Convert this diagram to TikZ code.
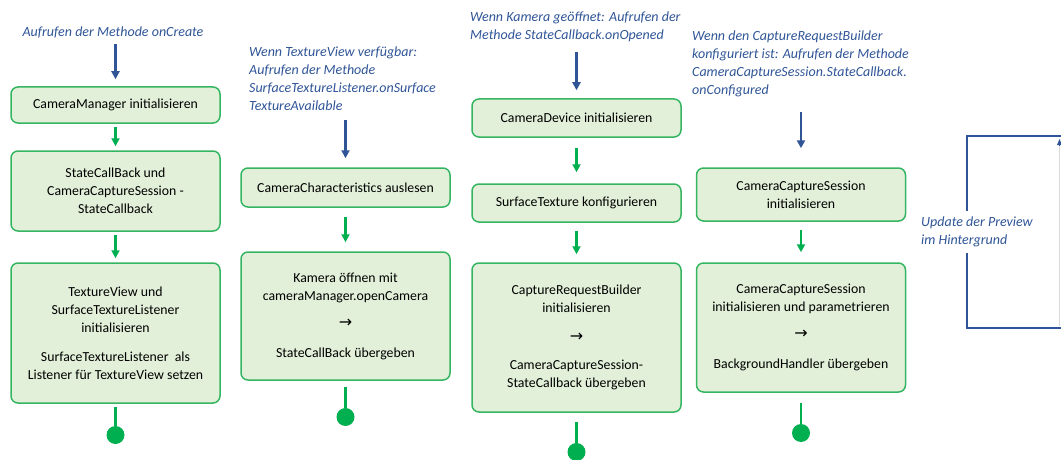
\documentclass[tikz,border=0pt]{standalone}
\usepackage{fontspec}
\setmainfont{Carlito}
\newfontfamily\arrowfont{DejaVu Sans}
\usetikzlibrary{arrows.meta}
\definecolor{stepfill}{HTML}{E2F0D9}
\definecolor{stepline}{HTML}{35B562}
\definecolor{flowgreen}{HTML}{00B050}
\definecolor{callblue}{HTML}{2F5597}
\newcommand{\thento}{{\arrowfont\fontsize{16}{18}\selectfont →}}
\tikzset{box/.style={draw=stepline,line width=1.5pt,rounded corners=7pt,fill=stepfill,minimum width=209pt,align=center,font=\fontsize{13.8}{18}\selectfont,inner sep=2pt},flow/.style={-{Triangle[length=8pt,width=8pt]},line width=2.2pt,draw=flowgreen},call/.style={flow,draw=callblue},stopdot/.style={circle,fill=flowgreen,minimum size=18pt,inner sep=0pt},note/.style={font=\fontsize{14}{18}\selectfont\itshape,text=callblue,align=left,inner sep=0pt},loopline/.style={draw=callblue,line width=2.2pt}}

\begin{document}
\begin{tikzpicture}[x=1pt,y=-1pt]
\useasboundingbox (0,0) rectangle (1061,460);
% column 1: onCreate
\node[note] (oncreate) at (113,32) {Aufrufen der Methode onCreate};
\node[box,minimum height=36pt] (cm) at (115.5,105) {CameraManager initialisieren};\node[box,minimum height=80pt] (scb) at (115.5,191) {StateCallBack und\\CameraCaptureSession -\\StateCallback};\node[box,minimum height=140pt] (tv) at (115.5,333) {TextureView und\\SurfaceTextureListener\\initialisieren\\[11pt]SurfaceTextureListener\ \ als\\Listener für TextureView setzen};\node[stopdot] (e1) at (115.5,435) {};
\draw[call,shorten <=6pt,shorten >=7pt] (cm.north |- oncreate.south) -- (cm.north);\draw[flow,shorten <=3pt,shorten >=4pt] (cm) -- (scb);\draw[flow,shorten <=3pt,shorten >=4pt] (scb) -- (tv);\draw[flow,-,shorten <=3pt] (tv) -- (e1);
% column 2: onSurfaceTextureAvailable
\node[note,anchor=west] (ontexture) at (249,79) {Wenn TextureView verfügbar:\\Aufrufen der Methode\\SurfaceTextureListener.onSurface\\TextureAvailable};
\node[box,minimum height=39pt] (cc) at (345.5,187.5) {CameraCharacteristics auslesen};\node[box,minimum height=128pt] (open) at (345.5,316) {Kamera öffnen mit\\cameraManager.openCamera\\[9pt]\thento\\[12pt]StateCallBack übergeben};\node[stopdot] (e2) at (345.5,417) {};
\draw[call,shorten <=9pt,shorten >=9pt] (cc.north |- ontexture.south) -- (cc.north);\draw[flow,shorten <=9pt,shorten >=9pt] (cc) -- (open);\draw[flow,-,shorten <=6pt] (open) -- (e2);
% column 3: onOpened
\node[note,anchor=west] (onopened) at (470,26.5) {Wenn Kamera geöffnet: Aufrufen der\\Methode StateCallback.onOpened};
\node[box,minimum height=38pt] (cd) at (576.5,118) {CameraDevice initialisieren};\node[box,minimum height=38pt] (st) at (576.5,203) {SurfaceTexture konfigurieren};\node[box,minimum height=149pt] (crb) at (576.5,337.5) {CaptureRequestBuilder\\initialisieren\\[11pt]\thento\\[10pt]CameraCaptureSession-\\StateCallback übergeben};\node[stopdot] (e3) at (576.5,452) {};
\draw[call,shorten <=10pt,shorten >=8pt] (cd.north |- onopened.south) -- (cd.north);\draw[flow,shorten <=10pt,shorten >=11pt] (cd) -- (st);\draw[flow,shorten <=8pt,shorten >=8pt] (st) -- (crb);\draw[flow,-,shorten <=9pt] (crb) -- (e3);
% column 4: onConfigured
\node[note,anchor=west] (onconfigured) at (692,64) {Wenn den CaptureRequestBuilder\\konfiguriert ist: Aufrufen der Methode\\CameraCaptureSession.StateCallback.\\onConfigured};
\node[box,minimum height=53pt] (ccs) at (801,194.5) {CameraCaptureSession\\initialisieren};\node[box,minimum height=129pt] (ccsp) at (801,327.5) {CameraCaptureSession\\initialisieren und parametrieren\\[9pt]\thento\\[12pt]BackgroundHandler übergeben};\node[stopdot] (e4) at (801,433) {};
\draw[call,shorten <=15pt,shorten >=19pt] (ccs.north |- onconfigured.south) -- (ccs.north);\draw[flow,shorten <=8pt,shorten >=10pt] (ccs) -- (ccsp);\draw[flow,-,shorten <=10pt] (ccsp) -- (e4);
% preview loop
\coordinate (loopbot) at (1061,328);\coordinate (looptop) at (1061,136);\coordinate (edgebot) at (1059.5,326);\coordinate (edgetop) at (1059.5,139);
\draw[loopline] (loopbot) -- ++(-94,0) |- (looptop);\draw[black!15,line width=1pt] (edgebot) -- (edgetop);\draw[call,line width=0pt,-{Triangle[length=6pt,width=5pt]}] (edgetop) ++(0,6) -- (edgetop);
\node[note,anchor=west,fill=white,inner xsep=1pt,inner ysep=6pt] (update) at (920,232) {Update der Preview\\im Hintergrund};
\end{tikzpicture}
\end{document}
